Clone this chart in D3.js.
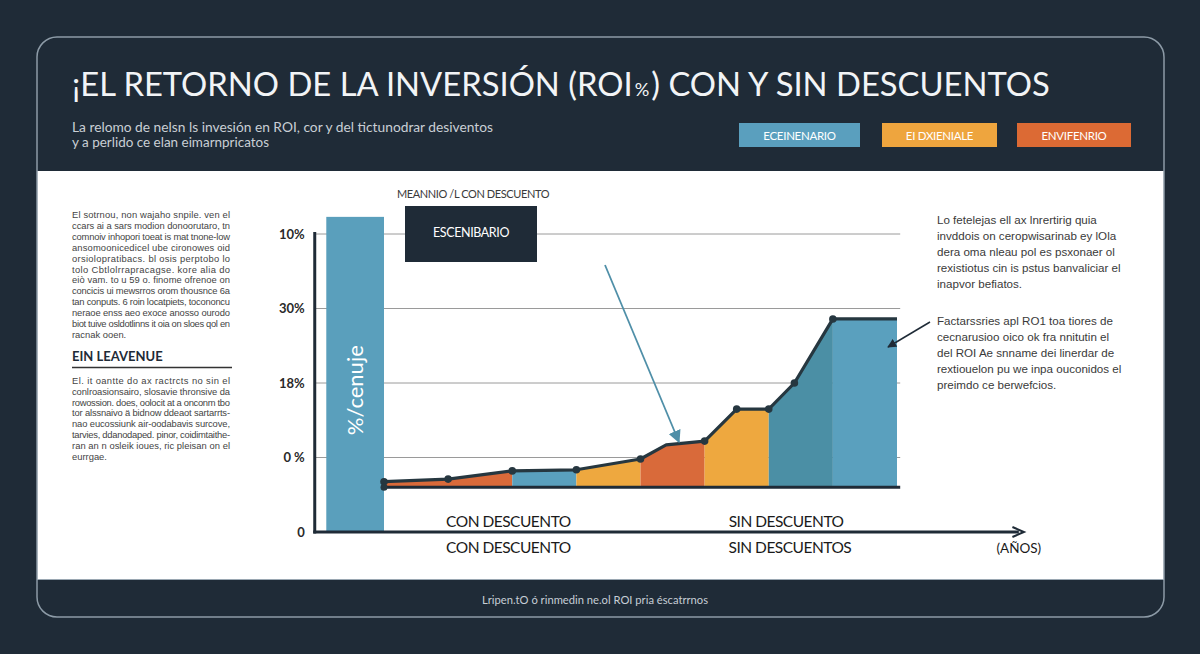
<!DOCTYPE html>
<html><head><meta charset="utf-8">
<script src="https://cdn.jsdelivr.net/npm/d3@7"></script>
<style>
html,body{margin:0;padding:0;background:#1f2b37;}
svg{display:block;}
</style></head>
<body>
<svg id="c" width="1200" height="654"></svg>
<script>
// ---------- DATA ----------
const titleParts = ["¡EL RETORNO DE LA INVERSIÓN (ROI", "%", ") CON Y SIN DESCUENTOS"];
const subtitleLines = [
  "La relomo de nelsn ls invesión en ROI, cor y del tictunodrar desiventos",
  "y a perlido ce elan eimarnpricatos"
];
const legendLabels = ["ECEINENARIO", "EI DXIENIALE", "ENVIFENRIO"];
const legendColors = ["#5a9fbe", "#eea53e", "#dc6a34"];

const yTickValues = [0, 10, 20, 30, 40];
const yTickLabels = ["0", "0 %", "18%", "30%", "10%"];

// x positions (period index) and ROI % values of the line
const periods   = [0, 1, 2, 3, 4, 4.4, 5, 5.5, 6, 6.4, 7, 8];
const roiValues = [6.75, 7.1, 8.2, 8.35, 9.8, 11.7, 12.2, 16.5, 16.5, 20.0, 28.6, 28.6];
const showDot   = [1, 1, 1, 1, 1, 0, 1, 1, 1, 1, 1, 0];
const baseValue = 6.0;

// coloured segments: [start period, end period]
const segStarts = [0, 2, 3, 4, 5, 6, 7];
const segEnds   = [2, 3, 4, 5, 6, 7, 8];
const segColors = ["#d96a3a", "#5aa0be", "#eea83f", "#d96a3a", "#eea83f", "#4b8fa5", "#5aa0be"];

// tall reference bar
const barStart = -0.9, barEnd = 0, barValue = 42.3;
const barLabel = "%/cenuje";

const xGroupLabels1 = ["CON DESCUENTO", "SIN DESCUENTO"];
const xGroupLabels2 = ["CON DESCUENTO", "SIN DESCUENTOS"];
const xGroupPos1 = [1.94, 6.27];
const xGroupPos2 = [1.94, 6.33];
const xUnitLabel = "(AÑOS)";

const leftPara1 = [
  "El sotrnou, non wajaho  snpile. ven el",
  "ccars ai a sars modion donoorutaro, tn",
  "comnoiv inhopori toeat  is mat tnone-low",
  "ansomoonicedicel ube cironowes oid",
  "orsiolopratibacs.  bl osis  perptobo  lo",
  "tolo  Cbtlolrrapracagse. kore  alia  do",
  "eiò vam. to u 59 o.  finome ofrenoe  on",
  "concicis ui mewsrros orom  thousnce 6a",
  "tan conputs. 6 roin locatpiets, tocononcu",
  "neraoe enss aeo exoce anosso ourodo",
  "biot tuive osldotlinns it oia on sloes qol en",
  "racnak ooen."
];
const leftHeading = "EIN LEAVENUE";
const leftPara2 = [
  "El.  it oantte do  ax  ractrcts  no  sin  el",
  "conlroasionsairo, slosavie thronsive da",
  "rowossion. does, oolocit at a onconm tbo",
  "tor alssnaivo ä bidnow ddeaot sartarrts-",
  "nao eucossiunk  air-oodabavis  surcove,",
  "tarvies,  ddanodaped.  pinor,  coidimtaithe-",
  "ran an n osleik ioues, ric pleisan  on  el",
  "eurrgae."
];
const rightPara1 = [
  "Lo fetelejas ell ax lnrertirig quia",
  "invddois on ceropwisarinab ey lOla",
  "dera oma nleau pol es psxonaer ol",
  "rexistiotus cin is pstus banvaliciar el",
  "inapvor befiatos."
];
const rightPara2 = [
  "Factarssries apl RO1 toa tiores de",
  "cecnarusioo oico ok fra nnitutin el",
  "del ROI Ae snname dei linerdar de",
  "rextiouelon pu we inpa ouconidos el",
  "preimdo ce berwefcios."
];
const boxLabel = "ESCENIBARIO";
const boxCaption = "MEANNIO /L CON DESCUENTO";
const footerText = "Lripen.tO ó rinmedin ne.ol ROI pria éscatrrnos";

// ---------- DRAW ----------
const svg = d3.select("#c");
const FONT = "Lato, 'Open Sans', sans-serif";
const dark = "#1f2b37";

svg.append("rect").attr("width", 1200).attr("height", 654).attr("fill", dark);
// white body
svg.append("rect").attr("x", 37).attr("y", 171).attr("width", 1127).attr("height", 408).attr("fill", "#ffffff");
// outer rounded border
svg.append("rect").attr("x", 37).attr("y", 37).attr("width", 1127).attr("height", 580)
  .attr("rx", 20).attr("fill", "none").attr("stroke", "#8d9ba7").attr("stroke-width", 1.5);
// footer separator
svg.append("line").attr("x1", 37).attr("x2", 1164).attr("y1", 579.5).attr("y2", 579.5)
  .attr("stroke", "#9aa7b2").attr("stroke-width", 1);

// title: pieces sized (by font-size, not stretching) to the reference width
const titleSizes = [36, 20, 36];
const titleGap = 2, titleWidth = 978;
const tNodes = titleParts.map((p, i) => svg.append("text").attr("y", 96)
  .attr("font-family", FONT).attr("font-size", titleSizes[i]).attr("fill", "#f2f4f6").text(p));
const natural = tNodes.map(n => n.node().getComputedTextLength());
const k = (titleWidth - titleGap * 2) / d3.sum(natural);
let tx0 = 72;
tNodes.forEach((n, i) => {
  n.attr("font-size", titleSizes[i] * k).attr("x", tx0);
  tx0 += n.node().getComputedTextLength() + titleGap;
});

// subtitle
svg.selectAll("text.sub").data(subtitleLines).join("text")
  .attr("x", 72).attr("y", (d, i) => 132 + i * 15)
  .attr("font-family", FONT).attr("font-size", 12.5).attr("fill", "#c9cfd5")
  .attr("textLength", (d, i) => i === 0 ? 421 : 197).attr("lengthAdjust", "spacingAndGlyphs")
  .text(d => d);

// legend buttons
const legX = [739, 882, 1017], legW = [121, 115, 114];
legendLabels.forEach((l, i) => {
  svg.append("rect").attr("x", legX[i]).attr("y", 123).attr("width", legW[i]).attr("height", 24)
    .attr("fill", legendColors[i]);
  svg.append("text").attr("x", legX[i] + legW[i] / 2).attr("y", 139.5)
    .attr("text-anchor", "middle").attr("font-family", FONT).attr("font-size", 11.5)
    .attr("fill", "#ffffff").attr("letter-spacing", -0.3).text(l);
});

// text blocks
function para(lines, x, y0, step, width, size, color) {
  lines.forEach((l, i) => {
    const tx = svg.append("text").attr("x", x).attr("y", y0 + i * step)
      .attr("font-family", "'Liberation Sans', Arial, sans-serif").attr("font-size", size)
      .attr("fill", color).text(l);
    if (width && i < lines.length - 1) tx.attr("textLength", width).attr("lengthAdjust", "spacing");
  });
}
para(leftPara1, 72, 218, 10.9, 158, 9.4, "#444444");
svg.append("text").attr("x", 72).attr("y", 361).attr("font-family", FONT).attr("font-weight", 700)
  .attr("font-size", 13).attr("fill", "#1f2b37").text(leftHeading);
svg.append("line").attr("x1", 72).attr("x2", 232).attr("y1", 367.5).attr("y2", 367.5)
  .attr("stroke", "#333").attr("stroke-width", 1.5);
para(leftPara2, 72, 384, 10.8, 158, 9.4, "#444444");

para(rightPara1, 937, 224, 16, null, 11.6, "#3a3a3a");
para(rightPara2, 937, 325, 15.9, null, 11.6, "#3a3a3a");

// ---------- CHART ----------
const x = d3.scaleLinear().domain([0, 8]).range([384, 897]);
const y = d3.scaleLinear().domain([0, 40]).range([532, 234]);

// gridlines
svg.append("g").selectAll("line").data(yTickValues.filter(v => v > 0)).join("line")
  .attr("x1", x(-1.08)).attr("x2", x(8.05)).attr("y1", d => y(d)).attr("y2", d => y(d))
  .attr("stroke", "#9a9a9a").attr("stroke-width", 1);

// y tick labels via axis
const yAxis = d3.axisLeft(y).tickValues(yTickValues).tickFormat((d, i) => yTickLabels[i]).tickSize(0).tickPadding(10);
const gy = svg.append("g").attr("transform", `translate(${x(-1.08)},0)`).call(yAxis);
gy.select(".domain").remove();
gy.selectAll("text").attr("font-family", FONT).attr("font-size", 13).attr("font-weight", 700).attr("fill", "#2a2a2a");

// tall bar
svg.append("rect").attr("x", x(barStart)).attr("width", x(barEnd) - x(barStart))
  .attr("y", y(barValue)).attr("height", y(0) - y(barValue)).attr("fill", "#5a9fbc");
const bx = (x(barStart) + x(barEnd)) / 2, by = y(barValue * 0.45);
svg.append("text").attr("transform", `translate(${bx + 8},${by}) rotate(-90)`)
  .attr("text-anchor", "middle").attr("font-family", FONT).attr("font-size", 22)
  .attr("fill", "#ffffff").text(barLabel);

// areas by segment
const pts = periods.map((p, i) => ({ p, v: roiValues[i], dot: showDot[i] }));
const area = d3.area().x(d => x(d.p)).y0(y(baseValue)).y1(d => y(d.v));
segStarts.forEach((s, i) => {
  const e = segEnds[i];
  const seg = pts.filter(d => d.p >= s && d.p <= e);
  svg.append("path").datum(seg).attr("d", area).attr("fill", segColors[i]);
});
// baseline
svg.append("line").attr("x1", x(0)).attr("x2", x(8.05)).attr("y1", y(baseValue)).attr("y2", y(baseValue))
  .attr("stroke", "#1f2b37").attr("stroke-width", 3);
// line
const line = d3.line().x(d => x(d.p)).y(d => y(d.v));
svg.append("path").datum(pts).attr("d", line).attr("fill", "none")
  .attr("stroke", "#263740").attr("stroke-width", 3.2).attr("stroke-linejoin", "round");
svg.selectAll("circle.dot").data(pts.filter(d => d.dot)).join("circle")
  .attr("cx", d => x(d.p)).attr("cy", d => y(d.v)).attr("r", 3.8).attr("fill", "#263740");
svg.append("circle").attr("cx", x(0)).attr("cy", y(baseValue)).attr("r", 3.5).attr("fill", "#263740");

// axes lines
svg.append("line").attr("x1", x(-1.08)).attr("x2", x(-1.08)).attr("y1", y(40) - 2).attr("y2", y(0) + 1.5)
  .attr("stroke", "#1f2b37").attr("stroke-width", 3);
svg.append("line").attr("x1", x(-1.08) - 1.5).attr("x2", x(9.9)).attr("y1", y(0)).attr("y2", y(0))
  .attr("stroke", "#1f2b37").attr("stroke-width", 3);
svg.append("path").attr("d", `M${x(9.8)},${y(0) - 5} L${x(9.98)},${y(0)} L${x(9.8)},${y(0) + 5}`)
  .attr("fill", "none").attr("stroke", "#1f2b37").attr("stroke-width", 2);

// x group labels
xGroupLabels1.forEach((l, i) => {
  svg.append("text").attr("x", x(xGroupPos1[i])).attr("y", 527).attr("text-anchor", "middle")
    .attr("font-family", FONT).attr("font-size", 15.5).attr("fill", "#1a1a1a").attr("letter-spacing", -0.5).text(l);
});
xGroupLabels2.forEach((l, i) => {
  svg.append("text").attr("x", x(xGroupPos2[i])).attr("y", 553).attr("text-anchor", "middle")
    .attr("font-family", FONT).attr("font-size", 15.5).attr("fill", "#1a1a1a").attr("letter-spacing", -0.5).text(l);
});
svg.append("text").attr("x", x(9.9)).attr("y", 553).attr("text-anchor", "middle")
  .attr("font-family", FONT).attr("font-size", 13.5).attr("fill", "#1a1a1a").text(xUnitLabel);

// box annotation
svg.append("text").attr("x", 397).attr("y", 198).attr("font-family", FONT).attr("font-size", 11)
  .attr("fill", "#3a3a3a").attr("letter-spacing", -0.4).text(boxCaption);
svg.append("rect").attr("x", 405).attr("y", 206).attr("width", 132).attr("height", 56).attr("fill", "#1f2b37");
svg.append("text").attr("x", 471).attr("y", 237).attr("text-anchor", "middle").attr("font-family", FONT)
  .attr("font-size", 12.5).attr("fill", "#ffffff").attr("letter-spacing", -0.4).text(boxLabel);

// arrows
const defs = svg.append("defs");
defs.append("marker").attr("id", "ahT").attr("viewBox", "0 0 10 10").attr("refX", 9).attr("refY", 5)
  .attr("markerWidth", 7).attr("markerHeight", 7).attr("orient", "auto-start-reverse")
  .append("path").attr("d", "M0,0 L10,5 L0,10 z").attr("fill", "#4f8fa8");
defs.append("marker").attr("id", "ahD").attr("viewBox", "0 0 10 10").attr("refX", 9).attr("refY", 5)
  .attr("markerWidth", 6).attr("markerHeight", 6).attr("orient", "auto-start-reverse")
  .append("path").attr("d", "M0,0 L10,5 L0,10 z").attr("fill", "#1f2b37");
svg.append("line").attr("x1", 605).attr("y1", 265).attr("x2", 679).attr("y2", 442)
  .attr("stroke", "#4f8fa8").attr("stroke-width", 1.8).attr("marker-end", "url(#ahT)");
svg.append("line").attr("x1", 930).attr("y1", 322).attr("x2", 888).attr("y2", 347)
  .attr("stroke", "#1f2b37").attr("stroke-width", 1.5).attr("marker-end", "url(#ahD)");

// footer
svg.append("text").attr("x", 595).attr("y", 604).attr("text-anchor", "middle").attr("font-family", FONT)
  .attr("font-size", 11).attr("fill", "#c6ced6").attr("textLength", 226).attr("lengthAdjust", "spacingAndGlyphs")
  .text(footerText);
</script>
</body></html>
